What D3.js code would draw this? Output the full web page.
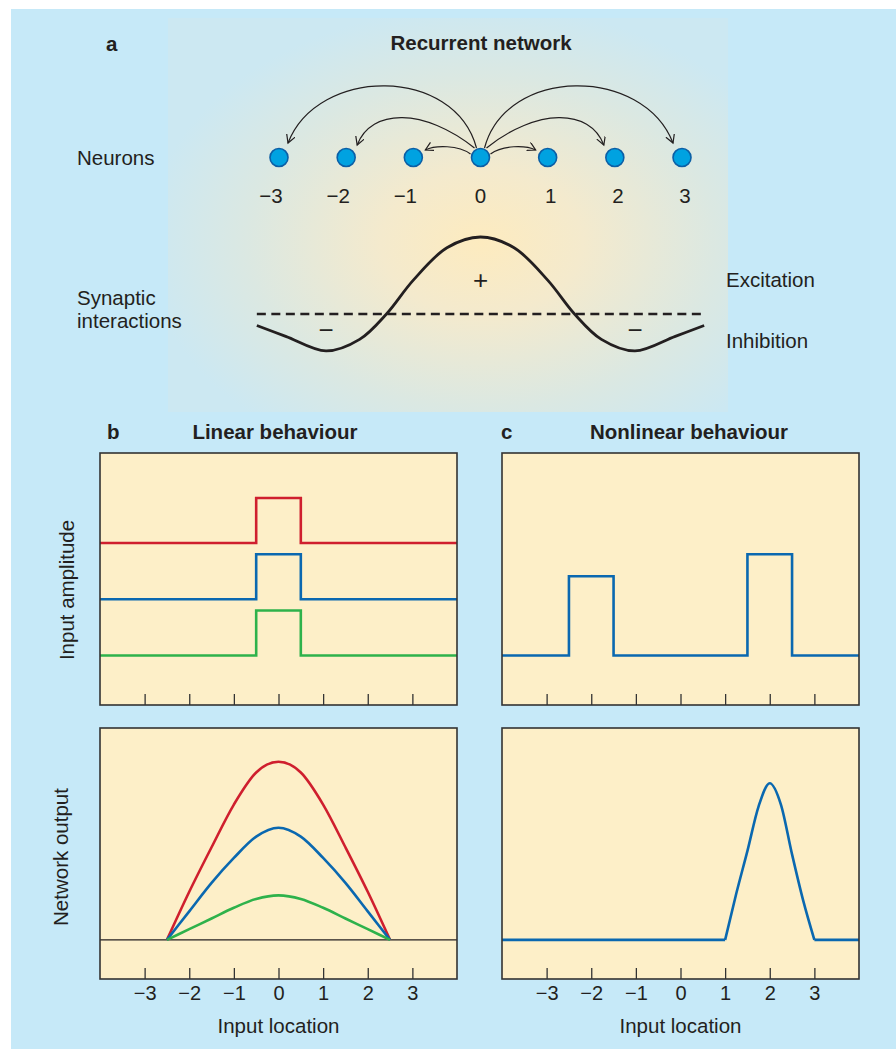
<html>
<head>
<meta charset="utf-8">
<style>
  body { margin: 0; background: #fff; }
  svg text { font-family: "Liberation Sans", Arial, sans-serif; fill: #231f20; }
</style>
</head>
<body>
<div id="elm"></div>
<script src="https://cdn.jsdelivr.net/npm/d3@7"></script>
<script>
'use strict';

// ---- data ----
var neurons = [-3, -2, -1, 0, 1, 2, 3];
var arrowTargets = [-3, -2, -1, 1, 2, 3];

// synaptic weight profile (peak = 1) against neuron distance
var kernelU = [-3.33, -2.9, -2.3, -1.8, -1.4, -1, -0.5, 0, 0.5, 1, 1.4, 1.8, 2.3, 2.9, 3.33];
var kernelW = [-0.15, -0.29, -0.48, -0.33, 0, 0.44, 0.86, 1, 0.86, 0.44, 0, -0.33, -0.48, -0.29, -0.15];

var ticks = [-3, -2, -1, 0, 1, 2, 3];

// b: linear behaviour, inputs (step profiles)
var linInX = [-4, -0.5, -0.5, 0.5, 0.5, 4];
var linInRed = [3.6, 3.6, 4.6, 4.6, 3.6, 3.6];
var linInBlue = [2.35, 2.35, 3.35, 3.35, 2.35, 2.35];
var linInGreen = [1.1, 1.1, 2.1, 2.1, 1.1, 1.1];

// b: linear behaviour, outputs
var linOutX = [-2.5, -2, -1.5, -1, -0.5, 0, 0.5, 1, 1.5, 2, 2.5];
var linOutRed = [0, 0.27, 0.52, 0.76, 0.94, 1.0, 0.94, 0.76, 0.52, 0.27, 0];
var linOutBlue = [0, 0.16, 0.32, 0.46, 0.58, 0.63, 0.58, 0.46, 0.32, 0.16, 0];
var linOutGreen = [0, 0.06, 0.12, 0.18, 0.23, 0.25, 0.23, 0.18, 0.12, 0.06, 0];

// c: nonlinear behaviour
var nlInX = [-4, -2.5, -2.5, -1.5, -1.5, 1.5, 1.5, 2.5, 2.5, 4];
var nlInY = [1.1, 1.1, 2.86, 2.86, 1.1, 1.1, 3.35, 3.35, 1.1, 1.1];
var nlFlatX = [-4, 1, 3, 4];
var nlFlatY = [0, 0, 0, 0];
var nlOutX = [1, 1.25, 1.5, 1.75, 2, 2.25, 2.5, 2.75, 3];
var nlOutY = [0, 0.26, 0.5, 0.75, 0.88, 0.76, 0.48, 0.22, 0];

var RED = '#cf1f2e', BLUE = '#0a68b0', GREEN = '#2eb24b', INK = '#231f20';
var FS = 20.5;

// ---- canvas ----
var width = 896, height = 1049;
var svg = d3.select('#elm').append('svg').attr('width', width).attr('height', height);
var defs = svg.append('defs');

svg.append('rect').attr('x', 11).attr('y', 9).attr('width', width - 11).attr('height', height - 9)
  .attr('fill', '#c6e9f8');

var glow = defs.append('radialGradient').attr('id', 'glow')
  .attr('cx', 0.56).attr('cy', 0.57).attr('r', 0.6);
glow.append('stop').attr('offset', 0).attr('stop-color', '#fdebbf');
glow.append('stop').attr('offset', 0.3).attr('stop-color', '#f4eacd');
glow.append('stop').attr('offset', 0.7).attr('stop-color', '#dbe8e2');
glow.append('stop').attr('offset', 1).attr('stop-color', '#cce8f2');
svg.append('rect').attr('x', 168).attr('y', 18).attr('width', 560).attr('height', 394)
  .attr('fill', 'url(#glow)');

defs.append('marker').attr('id', 'head')
  .attr('markerUnits', 'userSpaceOnUse').attr('markerWidth', 12).attr('markerHeight', 12)
  .attr('refX', 8).attr('refY', 4.5).attr('orient', 'auto')
  .append('path').attr('d', 'M0,0 L8,4.5 L0,9')
  .attr('fill', 'none').attr('stroke', INK).attr('stroke-width', 1.2);

// ---- panel a ----
var a = svg.append('g');
a.append('text').attr('x', 106).attr('y', 51).attr('font-weight', 'bold').attr('font-size', FS).text('a');
a.append('text').attr('x', 481).attr('y', 50).attr('text-anchor', 'middle')
  .attr('font-weight', 'bold').attr('font-size', FS).text('Recurrent network');
a.append('text').attr('x', 77).attr('y', 165).attr('font-size', FS).text('Neurons');
a.append('text').attr('x', 77).attr('y', 305).attr('font-size', FS).text('Synaptic');
a.append('text').attr('x', 77).attr('y', 328).attr('font-size', FS).text('interactions');
a.append('text').attr('x', 726).attr('y', 287).attr('font-size', FS).text('Excitation');
a.append('text').attr('x', 726).attr('y', 348).attr('font-size', FS).text('Inhibition');

var xN = d3.scaleLinear().domain([-3, 3]).range([279, 682]);
var nY = 157.5;

// arrows from neuron 0
var arcShape = { 1: { lift: 9, a: 12, b: 10, y0: 154, y1: 150, s0: 10, s1: 12 },
                 2: { lift: 40, a: 50, b: 14, y0: 148, y1: 145, s0: 6, s1: 11 },
                 3: { lift: 82, a: 22, b: 30, y0: 148, y1: 143, s0: 4, s1: 9 } };
a.selectAll('path.arrow').data(arrowTargets).enter().append('path')
  .attr('class', 'arrow')
  .attr('fill', 'none').attr('stroke', INK).attr('stroke-width', 1.2)
  .attr('marker-end', 'url(#head)')
  .attr('d', function(t) {
    var s = t < 0 ? -1 : 1, k = arcShape[Math.abs(t)];
    var x0 = xN(0) + s * k.s0, x1 = xN(t) - s * k.s1;
    var cy = k.y0 - k.lift;
    var p = d3.path();
    p.moveTo(x0, k.y0);
    p.bezierCurveTo(x0 + s * k.a, cy, x1 - s * k.b, cy, x1, k.y1);
    return p.toString();
  });

a.selectAll('circle.neuron').data(neurons).enter().append('circle')
  .attr('class', 'neuron')
  .attr('cx', function(d) { return xN(d); }).attr('cy', nY).attr('r', 9)
  .attr('fill', '#00a2e1').attr('stroke', '#0b5fa6').attr('stroke-width', 1.6);

a.selectAll('text.nlab').data(neurons).enter().append('text')
  .attr('class', 'nlab').attr('text-anchor', 'middle').attr('font-size', FS)
  .attr('x', function(d) { return xN(d) + (d < 0 ? -8 : d > 0 ? 3 : 0); })
  .attr('y', 203)
  .text(function(d) { return d < 0 ? '\u2212' + Math.abs(d) : String(d); });

var yK = d3.scaleLinear().domain([0, 1]).range([314, 237]);
a.append('line').attr('x1', xN(-3.33)).attr('x2', xN(3.33)).attr('y1', yK(0)).attr('y2', yK(0))
  .attr('stroke', INK).attr('stroke-width', 2.5).attr('stroke-dasharray', '9,5.5');
a.append('path')
  .datum(kernelU.map(function(u, i) { return [u, kernelW[i]]; }))
  .attr('fill', 'none').attr('stroke', INK).attr('stroke-width', 2.8)
  .attr('d', d3.line().x(function(d) { return xN(d[0]); }).y(function(d) { return yK(d[1]); })
    .curve(d3.curveCatmullRom.alpha(0.5)));
a.append('text').attr('x', xN(0)).attr('y', 289).attr('text-anchor', 'middle').attr('font-size', 26)
  .attr('font-weight', 300).text('+');
a.append('text').attr('x', xN(-2.3)).attr('y', 339).attr('text-anchor', 'middle').attr('font-size', 26).text('\u2212');
a.append('text').attr('x', xN(2.3)).attr('y', 339).attr('text-anchor', 'middle').attr('font-size', 26).text('\u2212');

// ---- panels b, c ----
var topY = d3.scaleLinear().domain([0, 5.6]).range([705, 453]);
var botY = d3.scaleLinear().domain([-0.22, 1.19]).range([979, 728]);
var xB = d3.scaleLinear().domain([-4, 4]).range([100, 457]);
var xC = d3.scaleLinear().domain([-4, 4]).range([502, 859]);

function frame(x, y, withLabels) {
  var g = svg.append('g');
  g.append('rect').attr('x', x.range()[0]).attr('y', y.range()[1])
    .attr('width', x.range()[1] - x.range()[0]).attr('height', y.range()[0] - y.range()[1])
    .attr('fill', '#fdefc8');
  var ax = d3.axisBottom(x).tickValues(ticks).tickSize(-11).tickSizeOuter(0).tickPadding(7);
  if (!withLabels) ax.tickFormat('');
  var axg = g.append('g').attr('transform', 'translate(0,' + y.range()[0] + ')').call(ax);
  axg.select('.domain').remove();
  axg.selectAll('line').attr('stroke', '#333').attr('stroke-width', 1.3);
  axg.selectAll('text').attr('font-size', 20).attr('font-family', '"Liberation Sans", Arial, sans-serif')
    .attr('fill', INK);
  return g;
}

function series(g, x, y, xs, ys, color, w, curve) {
  g.append('path')
    .datum(xs.map(function(v, i) { return [v, ys[i]]; }))
    .attr('fill', 'none').attr('stroke', color).attr('stroke-width', w)
    .attr('stroke-linejoin', 'miter')
    .attr('d', d3.line().x(function(d) { return x(d[0]); }).y(function(d) { return y(d[1]); })
      .curve(curve || d3.curveLinear));
}

function border(g, x, y) {
  g.append('rect').attr('x', x.range()[0]).attr('y', y.range()[1])
    .attr('width', x.range()[1] - x.range()[0]).attr('height', y.range()[0] - y.range()[1])
    .attr('fill', 'none').attr('stroke', '#333').attr('stroke-width', 1.6);
}

var bTop = frame(xB, topY, false);
series(bTop, xB, topY, linInX, linInRed, RED, 2.6);
series(bTop, xB, topY, linInX, linInBlue, BLUE, 2.6);
series(bTop, xB, topY, linInX, linInGreen, GREEN, 2.6);
border(bTop, xB, topY);

var bBot = frame(xB, botY, true);
series(bBot, xB, botY, [-4, 4], [0, 0], INK, 1.3);
series(bBot, xB, botY, linOutX, linOutRed, RED, 2.6, d3.curveMonotoneX);
series(bBot, xB, botY, linOutX, linOutBlue, BLUE, 2.6, d3.curveMonotoneX);
series(bBot, xB, botY, linOutX, linOutGreen, GREEN, 2.6, d3.curveMonotoneX);
border(bBot, xB, botY);

var cTop = frame(xC, topY, false);
series(cTop, xC, topY, nlInX, nlInY, BLUE, 2.6);
border(cTop, xC, topY);

var cBot = frame(xC, botY, true);
series(cBot, xC, botY, nlFlatX.slice(0, 2), nlFlatY.slice(0, 2), BLUE, 2.6);
series(cBot, xC, botY, nlFlatX.slice(2), nlFlatY.slice(2), BLUE, 2.6);
series(cBot, xC, botY, nlOutX, nlOutY, BLUE, 2.6, d3.curveMonotoneX);
border(cBot, xC, botY);

// titles and axis labels
svg.append('text').attr('x', 107).attr('y', 439).attr('font-weight', 'bold').attr('font-size', FS).text('b');
svg.append('text').attr('x', 275).attr('y', 439).attr('text-anchor', 'middle')
  .attr('font-weight', 'bold').attr('font-size', FS).text('Linear behaviour');
svg.append('text').attr('x', 501).attr('y', 439).attr('font-weight', 'bold').attr('font-size', FS).text('c');
svg.append('text').attr('x', 689).attr('y', 439).attr('text-anchor', 'middle')
  .attr('font-weight', 'bold').attr('font-size', FS).text('Nonlinear behaviour');

svg.append('text').attr('transform', 'translate(74,590) rotate(-90)').attr('text-anchor', 'middle')
  .attr('font-size', FS).text('Input amplitude');
svg.append('text').attr('transform', 'translate(68,857) rotate(-90)').attr('text-anchor', 'middle')
  .attr('font-size', FS).text('Network output');
svg.append('text').attr('x', xB(0)).attr('y', 1033).attr('text-anchor', 'middle')
  .attr('font-size', FS).text('Input location');
svg.append('text').attr('x', xC(0)).attr('y', 1033).attr('text-anchor', 'middle')
  .attr('font-size', FS).text('Input location');
</script>
</body>
</html>
